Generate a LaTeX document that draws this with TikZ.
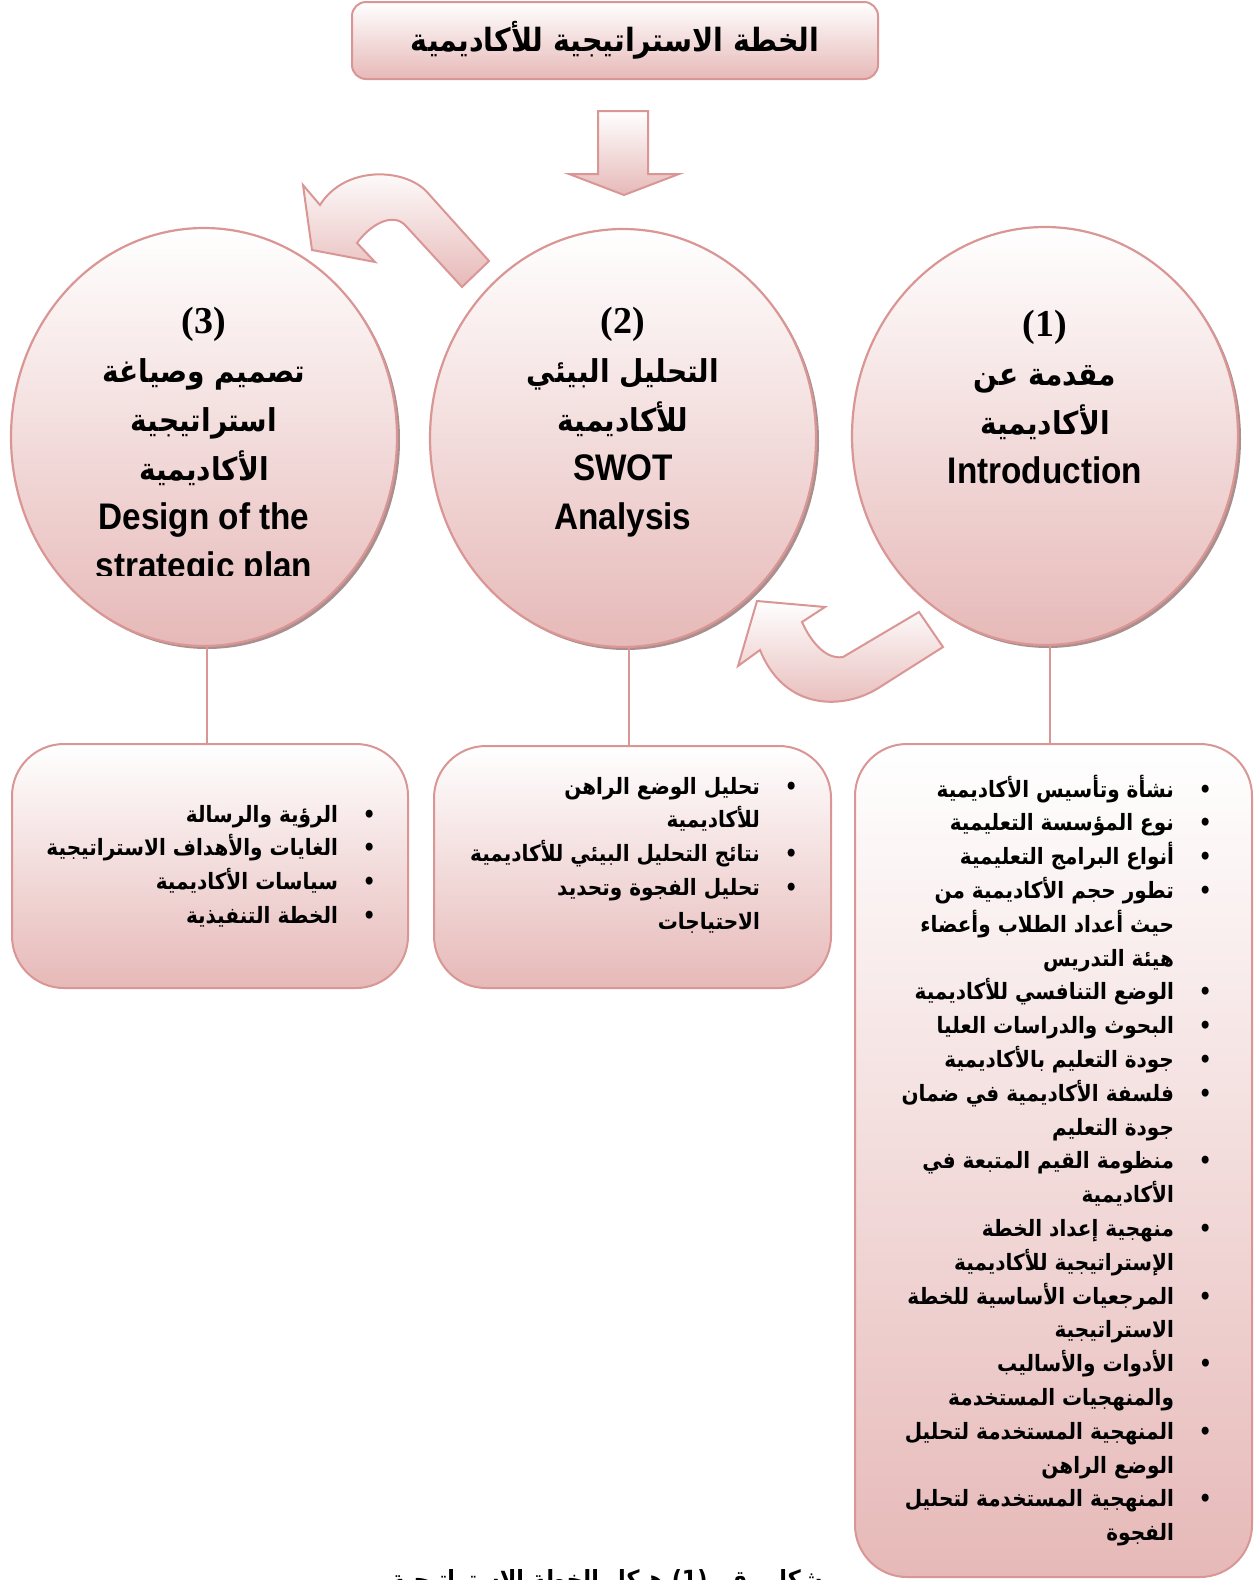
\documentclass[tikz,border=0pt]{standalone}
\usepackage{fontspec}
\usetikzlibrary{shapes.geometric,shadows}
\TeXXeTstate=1
\newfontfamily\arabicfont[Script=Arabic,FakeStretch=0.89]{DejaVu Sans}
\newfontfamily\latinfont[FakeStretch=0.9]{Liberation Sans}
\newfontfamily\numfont{Liberation Serif}
\newcommand{\arl}[1]{\beginR#1\endR}
\newcommand{\latinline}[1]{{\latinfont\fontsize{37}{49}\selectfont #1}}
\newcommand{\numline}[1]{{\numfont\fontsize{38}{49}\selectfont #1}}
\definecolor{pinkline}{HTML}{D99694}
\definecolor{pinkfill}{HTML}{E6B9B8}
\definecolor{shadowpink}{HTML}{A98F8E}
\tikzset{
  titlebox/.style={rectangle, rounded corners=14pt, draw=pinkline, line width=2pt,
    top color=white, bottom color=pinkfill, minimum width=526pt, minimum height=77pt,
    font=\arabicfont\bfseries\fontsize{32}{36}\selectfont},
  stage/.style={ellipse, draw=pinkline, line width=2.2pt, top color=white, bottom color=pinkfill,
    minimum width=386pt, minimum height=418pt, inner sep=0pt,
    drop shadow={shadow xshift=3pt, shadow yshift=-3pt, fill=shadowpink, opacity=1}},
  stagetext/.style={align=center, inner sep=0pt, font=\arabicfont\bfseries\fontsize{31.5}{49}\selectfont},
  listbox/.style={rectangle, rounded corners=52pt, draw=pinkline, line width=2pt,
    top color=white, bottom color=pinkfill, inner sep=0pt},
  listtext/.style={inner sep=0pt, anchor=base east, font=\arabicfont\bfseries\fontsize{22.5}{33.8}\selectfont},
  bentarrow/.style={draw=pinkline, line width=2pt, top color=white, bottom color=pinkfill},
  link/.style={draw=pinkline, line width=2pt}
}
\begin{document}
\begin{tikzpicture}[x=1pt,y=-1pt]
\useasboundingbox (0,0) rectangle (1255,1580);
\clip (0,0) rectangle (1255,1580);

% title and arrow down
\node[titlebox] (title) at (615,40.5) {\arl{الخطة الاستراتيجية للأكاديمية}};
\path[bentarrow] (598,111) -- (648,111) -- (648,174) -- (679,174) -- (624,195)
  -- (569,174) -- (598,174) -- cycle;

% the three stages
\node[stage] (c3) at (204,437) {};
\node[stage] (c2) at (623,438) {};
\node[stage] (c1) at (1045,436) {};

\node[stagetext] (t1) at (1045,397) {\numline{(1)}\\ \arl{مقدمة عن}\\ \arl{الأكاديمية}\\ \latinline{Introduction}};
\node[stagetext] (t2) at (623,422) {\numline{(2)}\\ \arl{التحليل البيئي}\\ \arl{للأكاديمية}\\ \latinline{SWOT}\\ \latinline{Analysis}};
\begin{scope}
  \clip (0,0) rectangle (1255,575);
  \node[stagetext] (t3) at (204,447) {\numline{(3)}\\ \arl{تصميم وصياغة}\\ \arl{استراتيجية}\\ \arl{الأكاديمية}\\ \latinline{Design of the}\\ \latinline{strategic plan}};
\end{scope}

% bent arrows between stages
\path[bentarrow] (489,261) -- (427,192) .. controls (405,168) and (345,165) .. (320,205)
  -- (303,185) -- (312,250) -- (375,262) -- (357,243)
  .. controls (370,225) and (392,212) .. (405,225) -- (462,287) -- cycle;
\path[bentarrow] (943,647) -- (880,687) .. controls (845,710) and (785,712) .. (760,650)
  -- (738,666) -- (757,601) -- (825,607) -- (802,622)
  .. controls (810,640) and (825,660) .. (843,657) -- (919,612) -- cycle;

% boxes under the stages
\node[listbox, minimum width=396pt, minimum height=244pt] (b3) at (210,866) {};
\node[listbox, minimum width=397pt, minimum height=242pt] (b2) at (632.5,867) {};
\node[listbox, minimum width=397pt, minimum height=833pt] (b1) at (1053.5,1160.5) {};

\draw[link] ([xshift=3pt]c3.south) -- ([xshift=3pt]c3.south |- b3.north);
\draw[link] ([xshift=6pt]c2.south) -- ([xshift=6pt]c2.south |- b2.north);
\draw[link] ([xshift=5pt]c1.south) -- ([xshift=5pt]c1.south |- b1.north);

\node[listtext] (l3) at (376,822) {\begin{tabular}[t]{@{}r@{\hspace{25pt}}c@{}}
\arl{الرؤية والرسالة} & \textbullet\\
\arl{الغايات والأهداف الاستراتيجية} & \textbullet\\
\arl{سياسات الأكاديمية} & \textbullet\\
\arl{الخطة التنفيذية} & \textbullet
\end{tabular}};
\node[listtext] (l2) at (798,794) {\begin{tabular}[t]{@{}r@{\hspace{25pt}}c@{}}
\arl{تحليل الوضع الراهن} & \textbullet\\
\arl{للأكاديمية} & \\
\arl{نتائج التحليل البيئي للأكاديمية} & \textbullet\\
\arl{تحليل الفجوة وتحديد} & \textbullet\\
\arl{الاحتياجات} &
\end{tabular}};
\node[listtext] (l1) at (1212,797) {\begin{tabular}[t]{@{}r@{\hspace{25pt}}c@{}}
\arl{نشأة وتأسيس الأكاديمية} & \textbullet\\
\arl{نوع المؤسسة التعليمية} & \textbullet\\
\arl{أنواع البرامج التعليمية} & \textbullet\\
\arl{تطور حجم الأكاديمية من} & \textbullet\\
\arl{حيث أعداد الطلاب وأعضاء} & \\
\arl{هيئة التدريس} & \\
\arl{الوضع التنافسي للأكاديمية} & \textbullet\\
\arl{البحوث والدراسات العليا} & \textbullet\\
\arl{جودة التعليم بالأكاديمية} & \textbullet\\
\arl{فلسفة الأكاديمية في ضمان} & \textbullet\\
\arl{جودة التعليم} & \\
\arl{منظومة القيم المتبعة في} & \textbullet\\
\arl{الأكاديمية} & \\
\arl{منهجية إعداد الخطة} & \textbullet\\
\arl{الإستراتيجية للأكاديمية} & \\
\arl{المرجعيات الأساسية للخطة} & \textbullet\\
\arl{الاستراتيجية} & \\
\arl{الأدوات والأساليب} & \textbullet\\
\arl{والمنهجيات المستخدمة} & \\
\arl{المنهجية المستخدمة لتحليل} & \textbullet\\
\arl{الوضع الراهن} & \\
\arl{المنهجية المستخدمة لتحليل} & \textbullet\\
\arl{الفجوة} &
\end{tabular}};

% caption, cut by the page edge
\node[inner sep=0pt, anchor=base, font=\arabicfont\bfseries\fontsize{25}{30}\selectfont] (cap) at (607,1588)
  {\beginR شكل رقم \beginL(1)\endL{} هيكل الخطة الاستراتيجية\endR};
\end{tikzpicture}
\end{document}
